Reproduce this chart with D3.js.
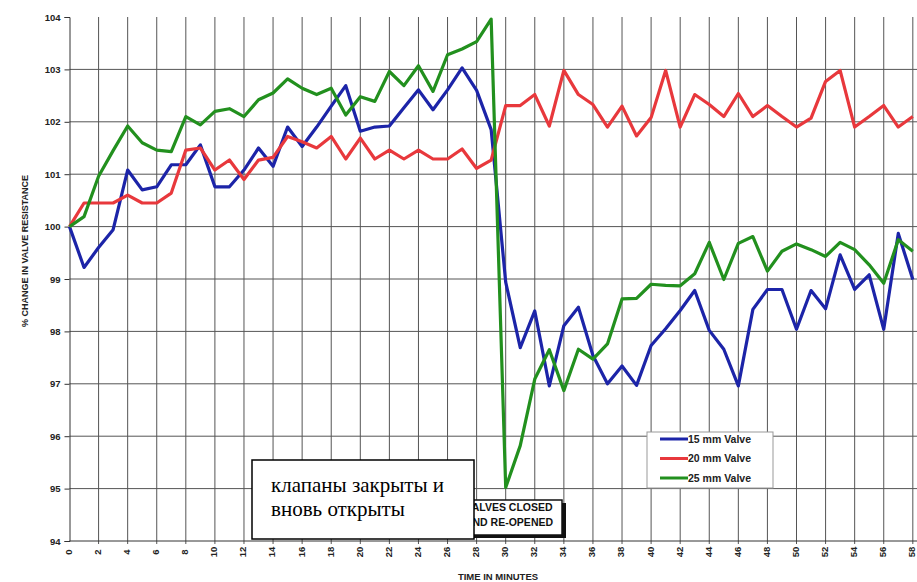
<!DOCTYPE html>
<html>
<head>
<meta charset="utf-8">
<script src="https://cdn.jsdelivr.net/npm/d3@7"></script>
<style>
  html, body { margin: 0; padding: 0; background: #fff; }
  svg { display: block; font-family: "Liberation Sans", Arial, sans-serif; }
</style>
</head>
<body>
<svg id="chart" width="917" height="582"></svg>
<script>
// minutes 0..58
const minutes = d3.range(0, 59);

const valve15 = [100, 99.22, 99.6, 99.94, 101.08, 100.7, 100.76, 101.18, 101.18, 101.56,
  100.76, 100.76, 101.08, 101.5, 101.15, 101.9, 101.53, 101.9, 102.3, 102.69,
  101.82, 101.9, 101.92, 102.27, 102.61, 102.23, 102.61, 103.03, 102.6, 101.85,
  98.94, 97.69, 98.39, 96.96, 98.11, 98.46, 97.54, 97.0, 97.34, 96.97,
  97.73, 98.05, 98.4, 98.78, 98.02, 97.66, 96.96, 98.42, 98.8, 98.8,
  98.04, 98.78, 98.43, 99.46, 98.8, 99.08, 98.04, 99.87, 98.99];

const valve20 = [100, 100.45, 100.45, 100.45, 100.6, 100.45, 100.45, 100.64, 101.46, 101.5,
  101.08, 101.27, 100.9, 101.27, 101.32, 101.72, 101.62, 101.5, 101.72, 101.29,
  101.69, 101.29, 101.46, 101.29, 101.46, 101.29, 101.29, 101.48, 101.11, 101.27,
  102.31, 102.31, 102.52, 101.92, 102.98, 102.52, 102.33, 101.9, 102.3, 101.73,
  102.08, 102.98, 101.9, 102.52, 102.33, 102.1, 102.54, 102.1, 102.31, 102.1,
  101.9, 102.07, 102.77, 102.98, 101.9, 102.1, 102.31, 101.9, 102.1];

const valve25 = [100, 100.19, 100.96, 101.45, 101.92, 101.6, 101.46, 101.43, 102.1, 101.94,
  102.2, 102.25, 102.1, 102.42, 102.55, 102.82, 102.64, 102.52, 102.64, 102.13,
  102.48, 102.39, 102.96, 102.69, 103.07, 102.58, 103.28, 103.39, 103.53, 103.96,
  95.02, 95.82, 97.09, 97.65, 96.87, 97.66, 97.47, 97.76, 98.62, 98.63,
  98.9, 98.88, 98.87, 99.1, 99.7, 98.99, 99.68, 99.81, 99.15, 99.53,
  99.67, 99.56, 99.43, 99.7, 99.56, 99.27, 98.92, 99.75, 99.53];

const seriesNames = ["15 mm Valve", "20 mm Valve", "25 mm Valve"];
const seriesColors = ["#1c24a8", "#e8383c", "#22901e"];
const seriesValues = [valve15, valve20, valve25];

const xTicks = d3.range(0, 59, 2);
const yTicks = d3.range(94, 105, 1);

const svg = d3.select("#chart");

const x = d3.scaleLinear().domain([0, 60]).range([69.5, 69.5 + 60 * 14.54]);
const y = d3.scaleLinear().domain([94, 104]).range([541, 17]);

// grid
const grid = svg.append("g").attr("class", "grid");
grid.selectAll("line.v")
  .data(xTicks.filter(d => d > 0))
  .enter().append("line")
  .attr("class", "v")
  .attr("x1", d => x(d)).attr("x2", d => x(d))
  .attr("y1", y(104)).attr("y2", y(94) + 3)
  .attr("stroke", "#555").attr("stroke-width", 1);
grid.selectAll("line.h")
  .data(yTicks.filter(d => d > 94 && d < 104))
  .enter().append("line")
  .attr("class", "h")
  .attr("x1", x(0)).attr("x2", 917)
  .attr("y1", d => y(d)).attr("y2", d => y(d))
  .attr("stroke", "#555").attr("stroke-width", 1);

// axes
const yAxis = d3.axisLeft(y).tickValues(yTicks).tickSize(5).tickPadding(4).tickFormat(d3.format("d"));
const gy = svg.append("g").attr("transform", `translate(${x(0)},0)`).call(yAxis);
gy.select(".domain").attr("stroke", "#333");
gy.selectAll(".tick line").attr("stroke", "#333");
gy.selectAll(".tick text")
  .style("font-size", "9.5px").style("font-weight", "bold").style("font-family", "Liberation Sans, Arial, sans-serif")
  .attr("fill", "#222");

const xAxis = d3.axisBottom(x).tickValues(xTicks).tickSize(0).tickFormat(d3.format("d"));
const gx = svg.append("g").attr("transform", `translate(0,${y(94)})`).call(xAxis);
gx.select(".domain").attr("stroke", "#333").attr("d", `M${x(0)},0H917`);
gx.selectAll(".tick text")
  .style("font-size", "9.5px").style("font-weight", "bold").style("font-family", "Liberation Sans, Arial, sans-serif")
  .attr("fill", "#222")
  .attr("transform", "rotate(-90)")
  .attr("text-anchor", "middle")
  .attr("x", -11).attr("y", 0).attr("dy", "0.2em");

// axis titles
svg.append("text")
  .attr("transform", "translate(25,251) rotate(-90)")
  .attr("text-anchor", "middle").attr("dy", "0.35em")
  .style("font-size", "9px").style("font-weight", "bold").attr("fill", "#222")
  .text("% CHANGE IN VALVE RESISTANCE");
svg.append("text")
  .attr("x", 498).attr("y", 577).attr("text-anchor", "middle").attr("dy", "0.35em")
  .style("font-size", "9.5px").style("font-weight", "bold").attr("fill", "#222")
  .text("TIME IN MINUTES");

// series lines
const line = d3.line().x((d, i) => x(minutes[i])).y(d => y(d));
svg.append("g").attr("class", "series")
  .selectAll("path")
  .data(seriesValues)
  .enter().append("path")
  .attr("d", line)
  .attr("fill", "none")
  .attr("stroke", (d, i) => seriesColors[i])
  .attr("stroke-width", 3.2)
  .attr("stroke-linejoin", "round");

// legend
const legend = svg.append("g").attr("transform", "translate(647,432)");
legend.append("rect")
  .attr("width", 126).attr("height", 56)
  .attr("fill", "#fff").attr("stroke", "#999").attr("stroke-width", 1);
const items = legend.selectAll("g.item")
  .data(seriesNames)
  .enter().append("g")
  .attr("class", "item")
  .attr("transform", (d, i) => `translate(0,${7 + i * 19.5})`);
items.append("line")
  .attr("x1", 13).attr("x2", 41)
  .attr("stroke", (d, i) => seriesColors[i]).attr("stroke-width", 3);
items.append("text")
  .attr("x", 41).attr("dy", "0.35em")
  .style("font-size", "10.5px").style("font-weight", "bold").attr("fill", "#222")
  .text(d => d);

// original annotation box (partly covered)
const note = svg.append("g");
note.append("rect").attr("x", 455).attr("y", 503).attr("width", 111).attr("height", 35).attr("fill", "#111");
note.append("rect").attr("x", 452).attr("y", 500).attr("width", 110).attr("height", 35)
  .attr("fill", "#fff").attr("stroke", "#111").attr("stroke-width", 1.5);
note.selectAll("text")
  .data(["VALVES CLOSED", "AND RE-OPENED"])
  .enter().append("text")
  .attr("x", 509).attr("y", (d, i) => 507 + i * 15).attr("dy", "0.35em")
  .attr("text-anchor", "middle")
  .style("font-size", "10.5px").style("font-weight", "bold").attr("fill", "#111")
  .text(d => d);

// russian overlay box
const ru = svg.append("g");
ru.append("rect").attr("x", 252).attr("y", 460).attr("width", 222).attr("height", 79)
  .attr("fill", "#fff").attr("stroke", "#000").attr("stroke-width", 1.5);
ru.selectAll("text")
  .data(["клапаны закрыты и", "вновь открыты"])
  .enter().append("text")
  .attr("x", 271).attr("y", (d, i) => 492 + i * 24)
  .style("font-family", "'Liberation Serif', 'Times New Roman', serif")
  .style("font-size", "21px").attr("fill", "#000")
  .text(d => d);
</script>
</body>
</html>
